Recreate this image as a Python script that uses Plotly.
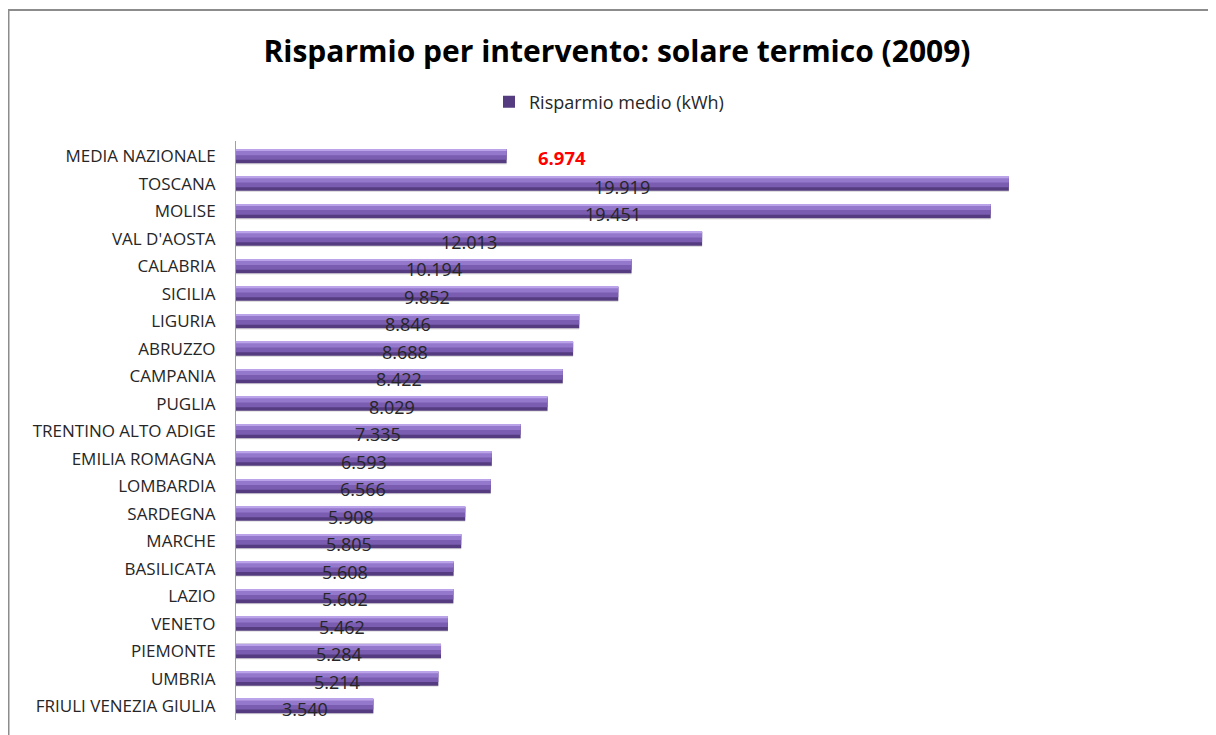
import plotly.graph_objects as go

categories = ["MEDIA NAZIONALE", "TOSCANA", "MOLISE", "VAL D'AOSTA", "CALABRIA", "SICILIA",
              "LIGURIA", "ABRUZZO", "CAMPANIA", "PUGLIA", "TRENTINO ALTO ADIGE",
              "EMILIA ROMAGNA", "LOMBARDIA", "SARDEGNA", "MARCHE", "BASILICATA", "LAZIO",
              "VENETO", "PIEMONTE", "UMBRIA", "FRIULI VENEZIA GIULIA"]
values = [6974, 19919, 19451, 12013, 10194, 9852, 8846, 8688, 8422, 8029, 7335,
          6593, 6566, 5908, 5805, 5608, 5602, 5462, 5284, 5214, 3540]
series_name = "Risparmio medio (kWh)"
title_text = "Risparmio per intervento: solare termico (2009)"

def fmt(v):
    return f"{v:,}".replace(",", ".")

FONT = "Open Sans"
OFF = 8  # page body margin
W, H = 1216, 735
L, R, T, B = 236 - OFF, 18, 141 - OFF, 23
pw, ph = W - L - R, H - T - B

fig = go.Figure()
# soft shadow under the bars
fig.add_trace(go.Bar(y=categories, x=values, orientation="h", showlegend=False,
                     marker=dict(color="rgba(0,0,0,0.13)", line=dict(width=0)),
                     width=0.54, offset=-0.25, hoverinfo="skip"))
# layered bars to mimic the 3D cylinder shading
layers = [
    ("#553c80", 0.52, -0.27),
    ("#7a5cb0", 0.38, -0.26),
    ("#9478cc", 0.20, -0.25),
    ("#bba3ea", 0.06, -0.265),
]
for k, (col, wd, of) in enumerate(layers):
    fig.add_trace(go.Bar(y=categories, x=values, orientation="h",
                         name=series_name, showlegend=(k == 0),
                         marker=dict(color=col, line=dict(width=0)),
                         width=wd, offset=of,
                         hoverinfo="x+y" if k == 0 else "skip"))

annotations = []
for i, (c, v) in enumerate(zip(categories, values)):
    if i == 0:
        annotations.append(dict(x=v, y=c, xref="x", yref="y", text="<b>" + fmt(v) + "</b>",
                                showarrow=False, xanchor="left", xshift=29, yshift=-1,
                                font=dict(family=FONT, size=18.5, color="#ff0000")))
    else:
        annotations.append(dict(x=v / 2, y=c, xref="x", yref="y", text=fmt(v),
                                showarrow=False, xanchor="center", yshift=-3,
                                font=dict(family=FONT, size=18, color="#262626")))

# outer chart border (left and top edges)
px2x = lambda px: (px - L) / pw
py2y = lambda py: (H - B - py) / ph
shapes = [
    dict(type="line", xref="paper", yref="paper", x0=px2x(0.5), x1=px2x(0.5), y0=py2y(2), y1=py2y(760),
         line=dict(color="#8c8c8c", width=2)),
    dict(type="line", xref="paper", yref="paper", x0=px2x(0), x1=px2x(1240), y0=py2y(2), y1=py2y(2),
         line=dict(color="#8c8c8c", width=2)),
]

fig.update_layout(
    width=W, height=H,
    margin=dict(l=L, r=R, t=T, b=B),
    paper_bgcolor="white", plot_bgcolor="white",
    barmode="overlay",
    title=dict(text="<b>" + title_text + "</b>", x=(617 - OFF) / W, xref="container", xanchor="center",
               y=1 - (51 - OFF) / H, yref="container", yanchor="middle",
               font=dict(family=FONT, size=30, color="#000000")),
    legend=dict(orientation="h", x=(609 - OFF) / W, xref="container", xanchor="center",
                y=1 - (102 - OFF) / H, yref="container", yanchor="middle",
                font=dict(family=FONT, size=18, color="#262626"),
                itemwidth=30, bgcolor="rgba(0,0,0,0)"),
    xaxis=dict(range=[0, 25000], visible=False, fixedrange=True),
    yaxis=dict(autorange="reversed", type="category", showline=True, linecolor="#a0a0a0",
               linewidth=1, ticks="", showgrid=False, zeroline=False,
               tickfont=dict(family=FONT, size=17, color="#262626"), ticklabelstandoff=16),
    annotations=annotations,
    shapes=shapes,
    font=dict(family=FONT),
)

fig.write_html("out.html")
